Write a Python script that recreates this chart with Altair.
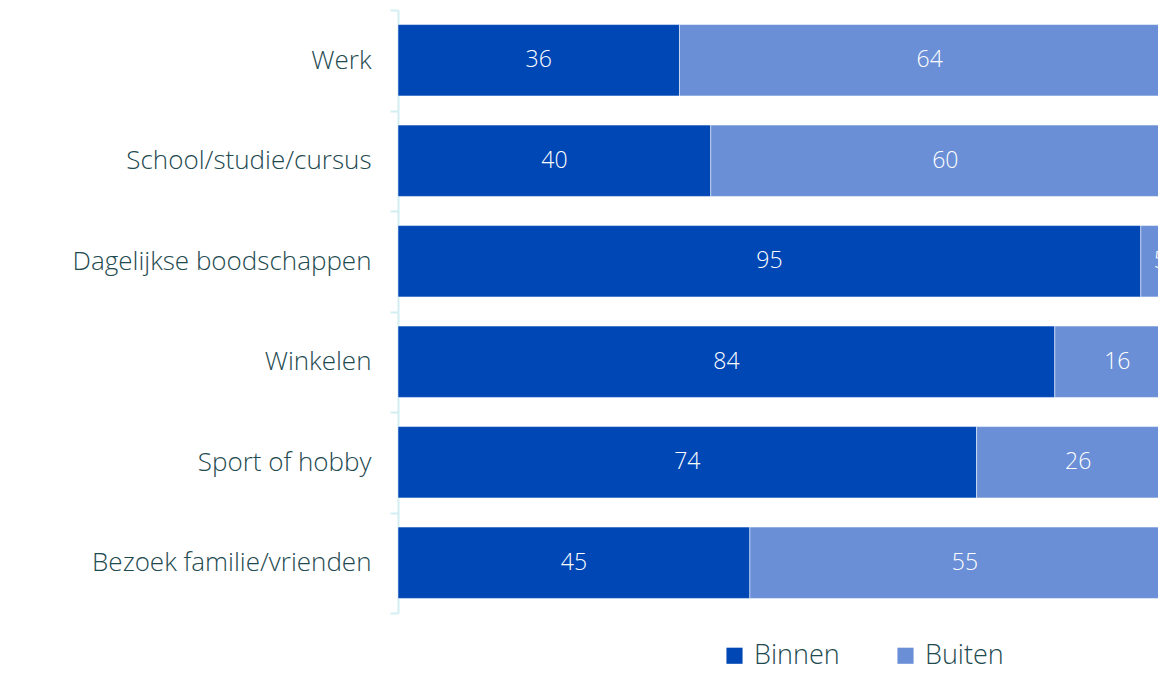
import altair as alt
import pandas as pd

categories = ["Werk", "School/studie/cursus", "Dagelijkse boodschappen", "Winkelen",
              "Sport of hobby", "Bezoek familie/vrienden"]
binnen = [36, 40, 95, 84, 74, 45]
buiten = [64, 60, 5, 16, 26, 55]
series = ["Binnen", "Buiten"]
colors = ["#0047B6", "#6A8FD6"]

rows = []
for c, b, u in zip(categories, binnen, buiten):
    rows.append({"cat": c, "type": "Binnen", "value": b, "ord": 0})
    rows.append({"cat": c, "type": "Buiten", "value": u, "ord": 1})
df = pd.DataFrame(rows)

FONT = "Open Sans"
TXT = "#1E4A50"
XMAX = 97.2

base = alt.Chart(df).transform_stack(
    stack="value", as_=["x0", "x1"], groupby=["cat"], sort=[alt.SortField("ord")]
).transform_calculate(mid="(datum.x0 + datum.x1) / 2")

yenc = alt.Y("cat:N", sort=categories, title=None,
             scale=alt.Scale(paddingInner=0, paddingOuter=0),
             axis=alt.Axis(domainColor="#D3EEF2", domainWidth=2, tickColor="#D3EEF2",
                           tickWidth=2, tickSize=8, tickBand="extent", labelPadding=19,
                           labelLimit=0,
                           labelFont=FONT, labelFontSize=26, labelFontWeight=300,
                           labelColor=TXT, grid=False))

bars = base.mark_bar(stroke="white", strokeWidth=0.5, clip=True,
                     height={"band": 0.71}).encode(
    x=alt.X("x0:Q", scale=alt.Scale(domain=[0, XMAX], nice=False, zero=False), axis=None),
    x2="x1:Q",
    y=yenc,
    color=alt.Color("type:N", scale=alt.Scale(domain=series, range=colors),
                    legend=alt.Legend(title=None, orient="none", direction="horizontal",
                                      legendX=323, legendY=632, symbolType="square",
                                      symbolSize=260, symbolStrokeWidth=0,
                                      labelFont=FONT, labelFontSize=27, labelFontWeight=300,
                                      labelColor=TXT, columnPadding=52, labelOffset=6)),
)

labels = base.mark_text(color="white", font=FONT, fontSize=23, fontWeight=300, clip=True).encode(
    x=alt.X("mid:Q", scale=alt.Scale(domain=[0, XMAX], nice=False, zero=False)),
    y=alt.Y("cat:N", sort=categories),
    text="value:Q",
)

chart = (bars + labels).properties(
    width=760, height=603,
    padding={"left": 390, "top": 2, "right": 0, "bottom": 60},
    autosize=alt.AutoSizeParams(type="none"),
).configure_view(stroke=None)

chart.save("out.html", embed_options={"renderer": "svg", "actions": False})
